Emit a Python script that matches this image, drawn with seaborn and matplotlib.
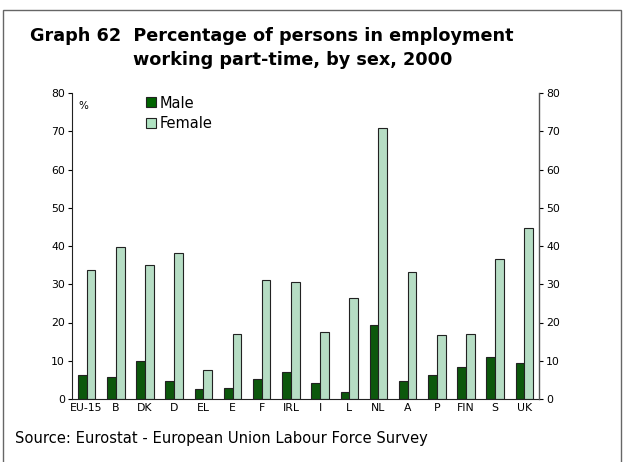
#Part-time employment by sex, 2000 - recreated bar chart
import pandas as pd
import numpy as np
import matplotlib
matplotlib.use('Agg')
import matplotlib.pyplot as plt
from matplotlib.patches import Rectangle
from matplotlib.lines import Line2D
import seaborn as sns

#data
countries = ['EU-15', 'B', 'DK', 'D', 'EL', 'E', 'F', 'IRL', 'I', 'L',
             'NL', 'A', 'P', 'FIN', 'S', 'UK']
male = [6.4, 5.8, 10.0, 4.8, 2.6, 2.8, 5.2, 7.0, 4.2, 1.9,
        19.4, 4.6, 6.4, 8.3, 11.1, 9.3]
female = [33.6, 39.7, 35.0, 38.1, 7.7, 17.1, 31.1, 30.7, 17.6, 26.3,
          70.9, 33.2, 16.7, 17.1, 36.6, 44.6]
yticks = [0, 10, 20, 30, 40, 50, 60, 70, 80]

sns.set_style('white')
plt.rcParams['font.family'] = ['DejaVu Sans']
plt.rcParams['text.color'] = 'black'
plt.rcParams['xtick.color'] = 'black'
plt.rcParams['ytick.color'] = 'black'

df = pd.DataFrame({'Country': countries * 2,
                   'Value': male + female,
                   'Sex': ['Male'] * len(countries) + ['Female'] * len(countries)})

fig = plt.figure(figsize=(6.24, 4.62), dpi=100)
ax = fig.add_axes([72/624, 1 - 399/462, (539-72)/624, (399-93)/462])

ax = sns.barplot(data=df, x='Country', y='Value', hue='Sex',
                 palette={'Male': '#006400', 'Female': '#b0e3c2'},
                 width=0.6, gap=0, edgecolor='#222222', linewidth=0.8,
                 legend=False, ax=ax)

ax.set_xlim(-0.5, len(countries) - 0.5)
ax.set_ylim(0, 80)
ax.set_yticks(yticks)
ax.set_xlabel('')
ax.set_ylabel('')
ax.tick_params(axis='x', which='major', length=0, labelsize=7.8, pad=3)
ax.set_xticks(np.arange(-0.5, len(countries)), minor=True)
ax.tick_params(axis='x', which='minor', length=2, direction='inout', width=0.8)
ax.tick_params(axis='y', length=3, width=0.8, labelsize=7.8, pad=2, left=True)
for s in ['top', 'right']:
    ax.spines[s].set_visible(False)
for s in ['left', 'bottom']:
    ax.spines[s].set_color('#222222')
    ax.spines[s].set_linewidth(0.8)

#right axis with the same scale
ax2 = ax.twinx()
ax2.set_ylim(0, 80)
ax2.set_yticks(yticks)
ax2.tick_params(axis='y', length=3, width=0.8, labelsize=7.8, pad=2, right=True)
for s in ['top', 'left', 'bottom']:
    ax2.spines[s].set_visible(False)
ax2.spines['right'].set_color('#555555')
ax2.spines['right'].set_linewidth(1.0)

ax.text(0.013, 0.975, '%', transform=ax.transAxes, fontsize=7.5, va='top')

#legend
handles = [Line2D([], [], marker='s', ls='', markersize=7.5, markerfacecolor='#006400',
                  markeredgecolor='#222222', markeredgewidth=0.8),
           Line2D([], [], marker='s', ls='', markersize=7.5, markerfacecolor='#b0e3c2',
                  markeredgecolor='#222222', markeredgewidth=0.8)]
ax.legend(handles, ['Male', 'Female'], loc='upper left', bbox_to_anchor=(0.134, 1.025),
          frameon=False, fontsize=10.5, handlelength=0.8, handletextpad=0.25,
          labelspacing=0.35, borderpad=0.2)

#titles and source
fig.text(30/624, 1 - 36/462, 'Graph 62  Percentage of persons in employment',
         fontsize=12.7, fontweight='bold', va='center')
fig.text(133/624, 1 - 60/462, 'working part-time, by sex, 2000',
         fontsize=12.7, fontweight='bold', va='center')
fig.text(15/624, 1 - 438/462, 'Source: Eurostat - European Union Labour Force Survey',
         fontsize=10.6, va='center')

#outer frame
fig.patches.append(Rectangle((3/624, -0.05), 618/624, 1 - 10/462 + 0.05,
                             transform=fig.transFigure, fill=False,
                             edgecolor='#666666', linewidth=1.0))

fig.savefig('out.png', dpi=100)
